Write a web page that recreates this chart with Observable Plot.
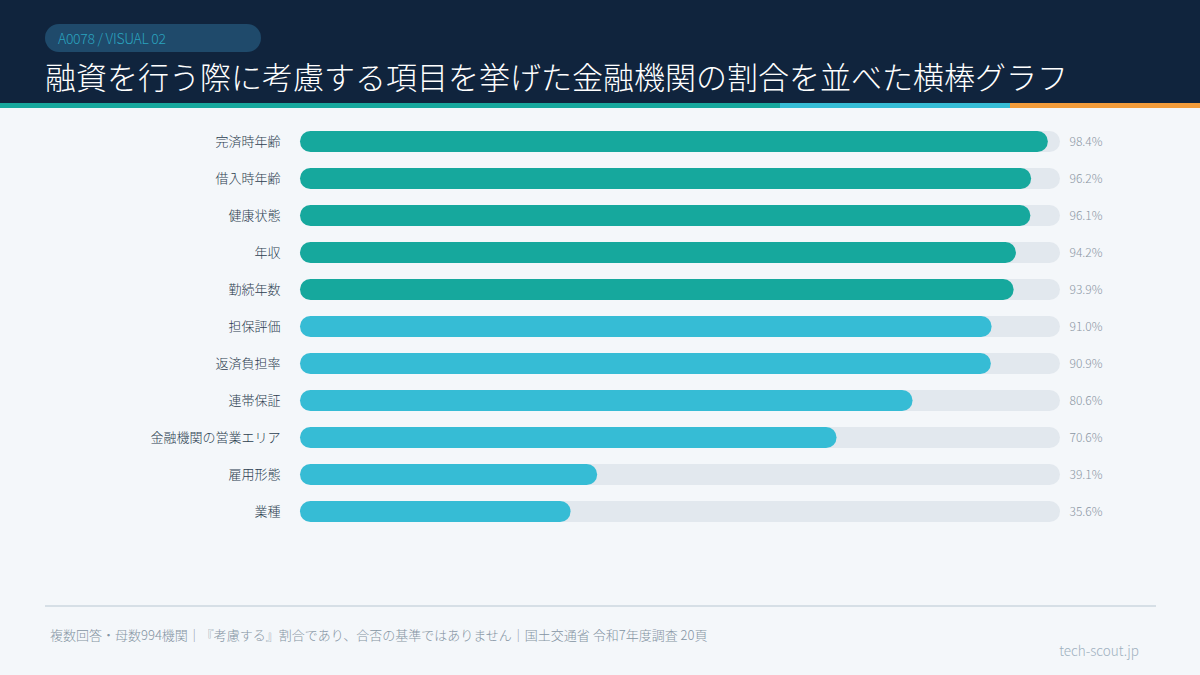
<!DOCTYPE html>
<html><head><meta charset="utf-8">
<script src="https://cdn.jsdelivr.net/npm/d3@7"></script>
<script src="https://cdn.jsdelivr.net/npm/@observablehq/plot@0.6"></script>
<style>
html,body{margin:0;padding:0;}
body{width:1200px;height:675px;background:#f4f7fa;position:relative;overflow:hidden;font-family:"Noto Sans CJK JP","Noto Sans",sans-serif;}
#header{position:absolute;left:0;top:0;width:1200px;height:103px;background:#10243d;}
#pill{position:absolute;left:45px;top:24px;width:216px;height:28px;border-radius:14px;background:#1f4a6b;color:#2aa3bf;font-size:14px;font-weight:300;line-height:28px;padding-left:13px;box-sizing:border-box;letter-spacing:-0.3px;}
#title{position:absolute;left:45px;top:54px;color:#ffffff;font-size:31px;font-weight:200;line-height:44px;white-space:nowrap;}
#stripe{position:absolute;left:0;top:103px;width:1200px;height:5px;display:flex;}
#stripe div{height:5px;}
#chart{position:absolute;left:0;top:123px;}
#rule{position:absolute;left:45px;top:605px;width:1111px;height:2px;background:#d6dfe6;}
#note{position:absolute;left:50px;top:625px;font-size:13px;color:#8494a3;font-weight:300;white-space:nowrap;}
#brand{position:absolute;right:61px;top:640px;font-size:13.5px;color:#9fb1c0;font-weight:300;}
</style></head>
<body>
<div id="header">
  <div id="pill">A0078 / VISUAL 02</div>
  <div id="title">融資を行う際に考慮する項目を挙げた金融機関の割合を並べた横棒グラフ</div>
</div>
<div id="stripe"><div style="width:780px;background:#17a89d"></div><div style="width:230px;background:#36bdd6"></div><div style="width:190px;background:#f39c3a"></div></div>
<div id="chart"></div>
<div id="rule"></div>
<div id="note">複数回答・母数994機関｜『考慮する』割合であり、合否の基準ではありません｜国土交通省 令和7年度調査 20頁</div>
<div id="brand">tech-scout.jp</div>
<script>
const items = ["完済時年齢","借入時年齢","健康状態","年収","勤続年数","担保評価","返済負担率","連帯保証","金融機関の営業エリア","雇用形態","業種"];
const shares = [98.4,96.2,96.1,94.2,93.9,91.0,90.9,80.6,70.6,39.1,35.6];
const groups = ["top","top","top","top","top","other","other","other","other","other","other"];
const colorDomain = ["top","other"];
const colorRange = ["#16a89d","#36bcd5"];

const data = items.map((item,i)=>({item, share: shares[i], group: groups[i]}));

const chart = Plot.plot({
  width: 1200,
  height: 407,
  marginLeft: 300,
  marginRight: 140,
  marginTop: 0,
  marginBottom: 0,
  style: {background: "transparent", fontFamily: "'Noto Sans CJK JP', sans-serif"},
  x: {domain: [0,100], axis: null},
  y: {domain: items, paddingInner: 0.432, paddingOuter: 0.216, label: null},
  color: {domain: colorDomain, range: colorRange},
  marks: [
    Plot.barX(data, {y: "item", x1: 0, x2: 100, fill: "#e2e8ee", rx: 10.5}),
    Plot.barX(data, {y: "item", x1: 0, x2: "share", fill: "group", rx: 10.5}),
    Plot.text(data, {y: "item", x: 100, text: d => d.share.toFixed(1) + "%", textAnchor: "start", dx: 9, fill: "#8a96a3", fontSize: 12, fontWeight: 300}),
    Plot.axisY({tickSize: 0, tickPadding: 20, fontSize: 13, fontWeight: 300, color: "#2c3e50", label: null})
  ]
});
document.getElementById("chart").appendChild(chart);
</script>
</body></html>
